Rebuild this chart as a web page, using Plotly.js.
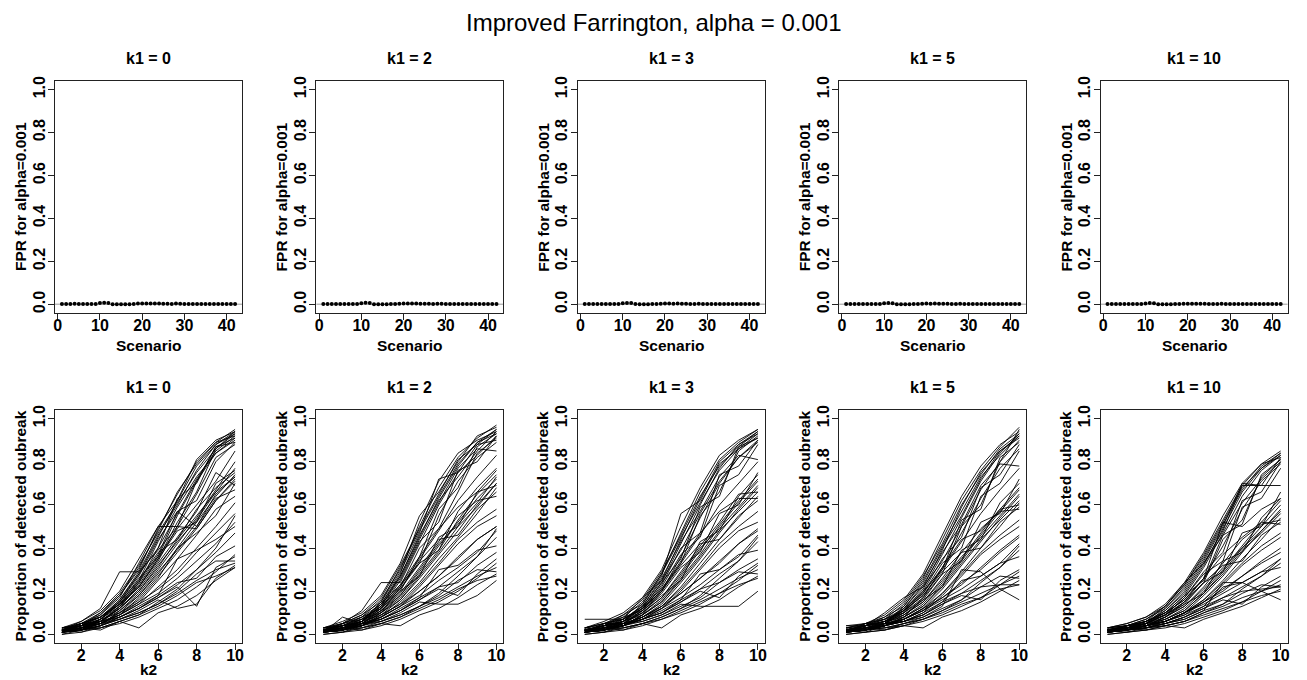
<!DOCTYPE html>
<html>
<head>
<meta charset="utf-8">
<script src="https://cdn.plot.ly/plotly-3.0.1.min.js"></script>
<style>html,body{margin:0;padding:0;background:#fff}#chart{width:1307px;height:680px}</style>
</head>
<body>
<div id="chart"></div>
<script>
// ---------------- DATA ----------------
const mainTitle = "Improved Farrington, alpha = 0.001";
const panelTitles = ["k1 = 0", "k1 = 2", "k1 = 3", "k1 = 5", "k1 = 10"];
const scenarios = [1,2,3,4,5,6,7,8,9,10,11,12,13,14,15,16,17,18,19,20,21,22,23,24,25,26,27,28,29,30,31,32,33,34,35,36,37,38,39,40,41,42];
const k2 = [1,2,3,4,5,6,7,8,9,10];
const alphaLine = 0.001;
const yTickVals = [0, 0.2, 0.4, 0.6, 0.8, 1.0];
const topXTicks = [0, 10, 20, 30, 40];
const botXTicks = [2, 4, 6, 8, 10];

// FPR per scenario (top row)
const fpr_k1_0  = [0.002,0.002,0.002,0.003,0.002,0.002,0.002,0.002,0.002,0.006,0.008,0.007,0.001,0.001,0.001,0.001,0.001,0.002,0.004,0.004,0.004,0.004,0.004,0.004,0.003,0.003,0.002,0.004,0.003,0.002,0.002,0.002,0.002,0.002,0.002,0.002,0.002,0.002,0.002,0.002,0.002,0.002];
const fpr_k1_2  = [0.002,0.002,0.002,0.002,0.002,0.002,0.002,0.002,0.002,0.005,0.008,0.006,0.001,0.001,0.001,0.001,0.002,0.002,0.003,0.004,0.004,0.004,0.004,0.003,0.003,0.003,0.002,0.003,0.003,0.002,0.002,0.002,0.002,0.002,0.002,0.002,0.002,0.002,0.002,0.002,0.002,0.002];
const fpr_k1_3  = [0.002,0.002,0.002,0.002,0.002,0.002,0.002,0.002,0.002,0.005,0.007,0.006,0.002,0.001,0.001,0.001,0.002,0.002,0.003,0.004,0.004,0.003,0.004,0.003,0.003,0.002,0.002,0.003,0.002,0.002,0.002,0.002,0.002,0.002,0.002,0.002,0.002,0.002,0.002,0.002,0.002,0.002];
const fpr_k1_5  = [0.002,0.002,0.002,0.002,0.002,0.002,0.002,0.002,0.002,0.005,0.007,0.005,0.001,0.001,0.001,0.001,0.002,0.002,0.003,0.004,0.003,0.004,0.003,0.003,0.003,0.002,0.002,0.003,0.002,0.002,0.002,0.002,0.002,0.002,0.002,0.002,0.002,0.002,0.002,0.002,0.002,0.002];
const fpr_k1_10 = [0.002,0.002,0.002,0.002,0.002,0.002,0.002,0.002,0.002,0.004,0.006,0.005,0.001,0.001,0.001,0.001,0.002,0.002,0.003,0.003,0.003,0.003,0.003,0.003,0.002,0.002,0.002,0.003,0.002,0.002,0.002,0.002,0.002,0.002,0.002,0.002,0.002,0.002,0.002,0.002,0.002,0.002];

// Proportion of detected outbreak, one row per scenario, values for k2 = 1..10 (bottom row)
const det_k1_0 = [
[0.02,0.04,0.08,0.15,0.28,0.45,0.62,0.78,0.88,0.94],
[0.01,0.03,0.07,0.14,0.22,0.35,0.52,0.66,0.86,0.93],
[0.03,0.05,0.10,0.18,0.30,0.49,0.65,0.80,0.89,0.95],
[0.01,0.02,0.06,0.12,0.24,0.40,0.56,0.72,0.85,0.92],
[0.02,0.05,0.09,0.17,0.33,0.50,0.50,0.71,0.87,0.91],
[0.02,0.04,0.08,0.16,0.29,0.46,0.60,0.76,0.88,0.93],
[0.01,0.03,0.06,0.13,0.25,0.43,0.59,0.73,0.84,0.90],
[0.03,0.06,0.11,0.20,0.35,0.50,0.62,0.81,0.90,0.94],
[0.02,0.03,0.07,0.15,0.27,0.44,0.57,0.62,0.80,0.89],
[0.01,0.04,0.09,0.18,0.31,0.48,0.66,0.79,0.89,0.92],
[0.02,0.05,0.08,0.14,0.26,0.36,0.55,0.71,0.84,0.91],
[0.03,0.04,0.10,0.19,0.32,0.47,0.61,0.75,0.86,0.94],
[0.01,0.02,0.07,0.16,0.28,0.40,0.63,0.70,0.87,0.89],
[0.02,0.06,0.12,0.29,0.29,0.39,0.50,0.65,0.82,0.88],
[0.01,0.03,0.06,0.12,0.20,0.31,0.44,0.55,0.66,0.77],
[0.02,0.02,0.05,0.10,0.18,0.28,0.40,0.52,0.64,0.74],
[0.01,0.04,0.07,0.13,0.22,0.35,0.48,0.52,0.70,0.76],
[0.02,0.03,0.05,0.09,0.17,0.27,0.38,0.49,0.62,0.72],
[0.03,0.05,0.08,0.14,0.24,0.37,0.57,0.50,0.65,0.73],
[0.01,0.02,0.04,0.11,0.19,0.30,0.42,0.54,0.67,0.80],
[0.02,0.04,0.06,0.12,0.21,0.33,0.45,0.57,0.75,0.69],
[0.01,0.03,0.07,0.10,0.16,0.26,0.40,0.47,0.55,0.70],
[0.02,0.02,0.05,0.13,0.23,0.36,0.49,0.60,0.71,0.85],
[0.03,0.04,0.06,0.11,0.18,0.29,0.39,0.50,0.63,0.67],
[0.01,0.05,0.08,0.15,0.25,0.38,0.44,0.58,0.68,0.75],
[0.02,0.03,0.05,0.09,0.15,0.25,0.35,0.46,0.58,0.64],
[0.01,0.02,0.06,0.12,0.20,0.32,0.43,0.53,0.66,0.73],
[0.02,0.04,0.07,0.14,0.22,0.34,0.50,0.49,0.62,0.71],
[0.01,0.02,0.04,0.07,0.10,0.14,0.19,0.25,0.30,0.33],
[0.02,0.03,0.05,0.08,0.12,0.17,0.23,0.30,0.38,0.47],
[0.00,0.02,0.03,0.06,0.09,0.13,0.18,0.24,0.27,0.31],
[0.01,0.04,0.06,0.09,0.14,0.19,0.26,0.34,0.42,0.52],
[0.02,0.01,0.03,0.05,0.08,0.12,0.16,0.22,0.29,0.37],
[0.01,0.03,0.05,0.10,0.15,0.21,0.28,0.38,0.47,0.56],
[0.03,0.02,0.04,0.07,0.11,0.16,0.12,0.14,0.26,0.32],
[0.01,0.05,0.06,0.08,0.13,0.18,0.24,0.26,0.36,0.41],
[0.02,0.03,0.02,0.06,0.09,0.15,0.21,0.30,0.40,0.55],
[0.00,0.01,0.04,0.08,0.12,0.18,0.35,0.39,0.44,0.50],
[0.01,0.02,0.05,0.09,0.14,0.22,0.30,0.40,0.50,0.61],
[0.02,0.04,0.05,0.07,0.10,0.14,0.20,0.28,0.34,0.34],
[0.01,0.03,0.03,0.06,0.03,0.10,0.13,0.18,0.25,0.31],
[0.02,0.02,0.04,0.08,0.12,0.17,0.22,0.13,0.31,0.36]
];
const det_k1_2 = [
[0.02,0.03,0.06,0.13,0.27,0.45,0.63,0.78,0.89,0.95],
[0.01,0.02,0.05,0.11,0.20,0.36,0.58,0.68,0.87,0.93],
[0.03,0.04,0.08,0.16,0.30,0.50,0.68,0.82,0.91,0.97],
[0.01,0.03,0.06,0.12,0.25,0.43,0.52,0.76,0.80,0.92],
[0.02,0.05,0.09,0.15,0.29,0.47,0.72,0.75,0.88,0.90],
[0.02,0.03,0.07,0.14,0.28,0.52,0.71,0.84,0.90,0.94],
[0.01,0.02,0.05,0.10,0.22,0.40,0.49,0.66,0.84,0.91],
[0.03,0.06,0.10,0.18,0.33,0.55,0.66,0.80,0.92,0.96],
[0.02,0.04,0.07,0.13,0.26,0.44,0.61,0.77,0.86,0.85],
[0.01,0.03,0.06,0.15,0.31,0.48,0.64,0.79,0.89,0.93],
[0.02,0.04,0.08,0.12,0.23,0.33,0.55,0.71,0.82,0.89],
[0.03,0.05,0.09,0.17,0.32,0.49,0.65,0.81,0.88,0.95],
[0.01,0.02,0.06,0.14,0.27,0.46,0.62,0.73,0.85,0.94],
[0.02,0.05,0.11,0.24,0.24,0.42,0.60,0.75,0.83,0.92],
[0.01,0.02,0.05,0.10,0.18,0.29,0.41,0.52,0.63,0.72],
[0.02,0.03,0.04,0.09,0.16,0.26,0.37,0.48,0.60,0.70],
[0.01,0.04,0.06,0.12,0.21,0.33,0.39,0.57,0.68,0.77],
[0.02,0.02,0.05,0.08,0.15,0.24,0.35,0.45,0.56,0.68],
[0.03,0.05,0.07,0.13,0.22,0.35,0.48,0.62,0.73,0.83],
[0.01,0.03,0.04,0.10,0.17,0.28,0.39,0.53,0.65,0.74],
[0.02,0.04,0.06,0.11,0.19,0.31,0.43,0.55,0.62,0.64],
[0.01,0.02,0.06,0.09,0.14,0.23,0.33,0.44,0.52,0.58],
[0.02,0.03,0.05,0.12,0.20,0.27,0.45,0.50,0.66,0.76],
[0.03,0.04,0.07,0.10,0.16,0.27,0.38,0.50,0.59,0.70],
[0.01,0.05,0.08,0.14,0.23,0.36,0.49,0.59,0.66,0.69],
[0.02,0.03,0.04,0.08,0.13,0.22,0.32,0.42,0.50,0.55],
[0.01,0.02,0.05,0.11,0.18,0.30,0.42,0.51,0.61,0.73],
[0.02,0.04,0.06,0.13,0.21,0.34,0.44,0.46,0.58,0.66],
[0.01,0.02,0.03,0.06,0.09,0.13,0.17,0.22,0.27,0.31],
[0.02,0.03,0.05,0.07,0.11,0.16,0.22,0.29,0.36,0.45],
[0.00,0.01,0.03,0.05,0.08,0.12,0.16,0.21,0.25,0.27],
[0.01,0.04,0.05,0.08,0.13,0.18,0.25,0.31,0.38,0.48],
[0.02,0.01,0.02,0.04,0.07,0.11,0.15,0.20,0.26,0.33],
[0.01,0.03,0.04,0.09,0.14,0.20,0.27,0.35,0.44,0.50],
[0.03,0.02,0.04,0.06,0.10,0.15,0.14,0.14,0.18,0.25],
[0.01,0.08,0.05,0.07,0.12,0.17,0.22,0.24,0.32,0.38],
[0.02,0.03,0.02,0.05,0.08,0.13,0.19,0.27,0.36,0.49],
[0.00,0.01,0.04,0.07,0.11,0.17,0.30,0.32,0.39,0.41],
[0.01,0.02,0.04,0.08,0.13,0.20,0.27,0.36,0.44,0.50],
[0.02,0.04,0.05,0.06,0.09,0.13,0.18,0.25,0.30,0.29],
[0.01,0.03,0.03,0.05,0.04,0.09,0.12,0.17,0.23,0.28],
[0.02,0.02,0.04,0.07,0.11,0.16,0.21,0.18,0.28,0.35]
];
const det_k1_3 = [
[0.02,0.03,0.06,0.12,0.24,0.42,0.60,0.77,0.88,0.94],
[0.01,0.02,0.05,0.10,0.21,0.33,0.55,0.66,0.85,0.92],
[0.03,0.05,0.08,0.15,0.28,0.47,0.66,0.81,0.89,0.95],
[0.01,0.03,0.05,0.11,0.23,0.40,0.47,0.74,0.78,0.90],
[0.02,0.04,0.09,0.14,0.27,0.56,0.62,0.79,0.86,0.91],
[0.02,0.03,0.07,0.13,0.25,0.44,0.63,0.80,0.88,0.93],
[0.01,0.02,0.04,0.09,0.20,0.36,0.54,0.70,0.82,0.89],
[0.03,0.06,0.10,0.17,0.30,0.50,0.68,0.83,0.90,0.95],
[0.02,0.04,0.07,0.12,0.24,0.35,0.59,0.64,0.87,0.91],
[0.01,0.03,0.06,0.14,0.28,0.45,0.61,0.76,0.86,0.93],
[0.02,0.04,0.08,0.11,0.22,0.37,0.45,0.69,0.74,0.88],
[0.03,0.05,0.09,0.16,0.29,0.46,0.64,0.78,0.87,0.94],
[0.01,0.02,0.06,0.13,0.26,0.43,0.57,0.73,0.83,0.81],
[0.07,0.07,0.07,0.17,0.25,0.39,0.56,0.71,0.82,0.90],
[0.01,0.02,0.04,0.09,0.16,0.27,0.39,0.51,0.62,0.72],
[0.02,0.03,0.04,0.08,0.14,0.24,0.35,0.47,0.58,0.68],
[0.01,0.04,0.06,0.11,0.19,0.31,0.38,0.56,0.60,0.75],
[0.02,0.02,0.05,0.08,0.13,0.22,0.33,0.44,0.54,0.64],
[0.03,0.05,0.07,0.12,0.20,0.33,0.46,0.60,0.70,0.80],
[0.01,0.03,0.04,0.09,0.15,0.26,0.37,0.50,0.61,0.71],
[0.02,0.04,0.06,0.10,0.17,0.29,0.41,0.52,0.65,0.66],
[0.01,0.02,0.05,0.08,0.13,0.21,0.31,0.42,0.50,0.57],
[0.02,0.03,0.05,0.11,0.18,0.25,0.43,0.48,0.64,0.74],
[0.03,0.04,0.06,0.09,0.15,0.25,0.36,0.48,0.57,0.66],
[0.01,0.05,0.07,0.13,0.21,0.34,0.47,0.57,0.63,0.63],
[0.02,0.03,0.04,0.07,0.12,0.20,0.30,0.40,0.48,0.52],
[0.01,0.02,0.05,0.10,0.17,0.28,0.40,0.49,0.59,0.69],
[0.02,0.04,0.06,0.12,0.20,0.32,0.42,0.44,0.55,0.62],
[0.01,0.02,0.03,0.05,0.08,0.12,0.16,0.21,0.26,0.30],
[0.02,0.03,0.04,0.07,0.10,0.15,0.21,0.28,0.34,0.43],
[0.00,0.01,0.03,0.05,0.07,0.11,0.15,0.19,0.23,0.26],
[0.01,0.04,0.05,0.08,0.12,0.17,0.23,0.30,0.36,0.46],
[0.02,0.01,0.02,0.04,0.07,0.10,0.14,0.19,0.25,0.32],
[0.01,0.03,0.04,0.08,0.13,0.19,0.26,0.33,0.42,0.48],
[0.03,0.02,0.04,0.06,0.09,0.14,0.13,0.13,0.13,0.20],
[0.01,0.05,0.05,0.07,0.11,0.16,0.21,0.24,0.30,0.35],
[0.02,0.03,0.02,0.05,0.08,0.12,0.18,0.26,0.34,0.45],
[0.00,0.01,0.04,0.07,0.10,0.16,0.28,0.30,0.37,0.39],
[0.01,0.02,0.04,0.07,0.12,0.19,0.26,0.34,0.42,0.49],
[0.02,0.04,0.05,0.06,0.09,0.13,0.17,0.24,0.29,0.28],
[0.01,0.03,0.03,0.05,0.03,0.09,0.12,0.16,0.22,0.27],
[0.02,0.02,0.04,0.07,0.10,0.15,0.20,0.17,0.27,0.33]
];
const det_k1_5 = [
[0.02,0.03,0.05,0.11,0.21,0.37,0.54,0.71,0.84,0.93],
[0.01,0.02,0.04,0.09,0.16,0.28,0.50,0.60,0.80,0.90],
[0.03,0.04,0.07,0.14,0.26,0.44,0.62,0.76,0.87,0.96],
[0.01,0.03,0.05,0.10,0.20,0.35,0.45,0.68,0.74,0.88],
[0.02,0.04,0.08,0.13,0.24,0.40,0.55,0.72,0.85,0.92],
[0.02,0.03,0.06,0.12,0.22,0.39,0.59,0.75,0.85,0.91],
[0.01,0.02,0.04,0.08,0.17,0.31,0.47,0.63,0.77,0.86],
[0.04,0.05,0.09,0.16,0.28,0.46,0.64,0.78,0.88,0.94],
[0.02,0.04,0.06,0.11,0.20,0.30,0.53,0.58,0.82,0.89],
[0.01,0.03,0.05,0.13,0.25,0.41,0.57,0.73,0.83,0.92],
[0.02,0.04,0.07,0.10,0.19,0.33,0.40,0.64,0.70,0.85],
[0.03,0.05,0.08,0.15,0.27,0.42,0.60,0.74,0.86,0.93],
[0.01,0.02,0.05,0.12,0.23,0.38,0.51,0.69,0.79,0.78],
[0.04,0.04,0.10,0.17,0.22,0.34,0.50,0.67,0.80,0.95],
[0.01,0.02,0.04,0.08,0.14,0.24,0.35,0.47,0.58,0.68],
[0.02,0.03,0.04,0.07,0.12,0.21,0.32,0.43,0.54,0.64],
[0.01,0.04,0.06,0.10,0.17,0.28,0.34,0.52,0.56,0.72],
[0.02,0.02,0.05,0.07,0.11,0.19,0.29,0.40,0.50,0.61],
[0.03,0.05,0.07,0.11,0.18,0.30,0.43,0.56,0.67,0.77],
[0.01,0.03,0.04,0.08,0.13,0.23,0.34,0.46,0.57,0.67],
[0.02,0.04,0.06,0.09,0.15,0.26,0.38,0.49,0.57,0.58],
[0.01,0.02,0.05,0.07,0.12,0.19,0.28,0.38,0.46,0.53],
[0.02,0.03,0.05,0.10,0.16,0.22,0.39,0.44,0.61,0.70],
[0.03,0.04,0.06,0.08,0.13,0.22,0.33,0.44,0.53,0.62],
[0.01,0.05,0.07,0.12,0.19,0.31,0.44,0.48,0.58,0.60],
[0.02,0.03,0.04,0.06,0.10,0.18,0.27,0.37,0.44,0.50],
[0.01,0.02,0.05,0.09,0.15,0.25,0.36,0.45,0.55,0.65],
[0.02,0.04,0.06,0.11,0.18,0.29,0.38,0.40,0.52,0.59],
[0.01,0.02,0.03,0.05,0.07,0.11,0.15,0.19,0.23,0.27],
[0.02,0.03,0.04,0.06,0.09,0.14,0.19,0.25,0.31,0.39],
[0.00,0.01,0.02,0.04,0.07,0.10,0.14,0.17,0.21,0.23],
[0.01,0.04,0.05,0.07,0.11,0.16,0.21,0.27,0.33,0.42],
[0.02,0.01,0.02,0.04,0.06,0.09,0.13,0.17,0.23,0.29],
[0.01,0.03,0.04,0.07,0.12,0.17,0.24,0.30,0.38,0.45],
[0.03,0.02,0.03,0.05,0.08,0.13,0.30,0.29,0.21,0.16],
[0.01,0.05,0.05,0.06,0.10,0.15,0.19,0.22,0.23,0.23],
[0.02,0.03,0.02,0.05,0.07,0.11,0.16,0.24,0.31,0.41],
[0.00,0.01,0.04,0.06,0.09,0.15,0.25,0.27,0.33,0.36],
[0.01,0.02,0.04,0.07,0.11,0.17,0.23,0.31,0.39,0.46],
[0.02,0.04,0.05,0.06,0.08,0.12,0.16,0.22,0.27,0.26],
[0.01,0.03,0.03,0.04,0.03,0.08,0.11,0.15,0.20,0.25],
[0.02,0.02,0.04,0.06,0.09,0.14,0.18,0.16,0.25,0.30]
];
const det_k1_10 = [
[0.02,0.03,0.05,0.10,0.18,0.31,0.47,0.64,0.76,0.83],
[0.01,0.02,0.04,0.08,0.14,0.24,0.44,0.53,0.73,0.81],
[0.03,0.04,0.07,0.13,0.23,0.37,0.53,0.69,0.79,0.85],
[0.01,0.03,0.05,0.09,0.17,0.29,0.38,0.62,0.66,0.80],
[0.02,0.04,0.07,0.12,0.21,0.34,0.50,0.70,0.69,0.82],
[0.02,0.03,0.06,0.11,0.19,0.32,0.49,0.66,0.77,0.84],
[0.01,0.02,0.04,0.08,0.15,0.26,0.41,0.58,0.71,0.79],
[0.03,0.05,0.08,0.14,0.24,0.38,0.55,0.70,0.79,0.82],
[0.02,0.04,0.06,0.10,0.18,0.25,0.46,0.51,0.74,0.81],
[0.01,0.03,0.05,0.12,0.22,0.35,0.51,0.67,0.78,0.84],
[0.02,0.04,0.06,0.09,0.17,0.28,0.34,0.59,0.63,0.77],
[0.03,0.05,0.08,0.13,0.23,0.36,0.52,0.68,0.77,0.83],
[0.01,0.02,0.05,0.11,0.20,0.33,0.48,0.69,0.69,0.69],
[0.02,0.03,0.06,0.13,0.24,0.33,0.46,0.61,0.72,0.80],
[0.01,0.02,0.04,0.07,0.12,0.20,0.30,0.41,0.52,0.62],
[0.02,0.03,0.04,0.06,0.10,0.18,0.27,0.38,0.48,0.58],
[0.01,0.04,0.05,0.09,0.15,0.24,0.29,0.47,0.50,0.66],
[0.02,0.02,0.04,0.06,0.10,0.16,0.25,0.35,0.44,0.54],
[0.03,0.04,0.06,0.10,0.16,0.26,0.52,0.50,0.58,0.63],
[0.01,0.03,0.04,0.07,0.11,0.19,0.29,0.40,0.50,0.60],
[0.02,0.03,0.05,0.08,0.13,0.22,0.33,0.44,0.51,0.53],
[0.01,0.02,0.04,0.06,0.10,0.16,0.24,0.33,0.41,0.47],
[0.02,0.03,0.05,0.09,0.14,0.19,0.34,0.38,0.54,0.63],
[0.03,0.04,0.05,0.07,0.11,0.19,0.28,0.39,0.47,0.56],
[0.01,0.04,0.06,0.10,0.16,0.26,0.37,0.45,0.52,0.51],
[0.02,0.03,0.04,0.06,0.09,0.15,0.23,0.32,0.39,0.45],
[0.01,0.02,0.04,0.08,0.13,0.21,0.31,0.40,0.48,0.57],
[0.02,0.03,0.05,0.09,0.15,0.24,0.32,0.34,0.46,0.52],
[0.01,0.02,0.03,0.04,0.06,0.10,0.13,0.17,0.20,0.23],
[0.02,0.03,0.03,0.05,0.08,0.12,0.17,0.22,0.27,0.33],
[0.00,0.01,0.02,0.04,0.06,0.09,0.12,0.15,0.18,0.20],
[0.01,0.03,0.04,0.06,0.10,0.14,0.19,0.24,0.29,0.35],
[0.02,0.01,0.02,0.03,0.05,0.08,0.11,0.15,0.20,0.25],
[0.01,0.02,0.04,0.06,0.10,0.15,0.21,0.27,0.33,0.38],
[0.03,0.02,0.03,0.05,0.07,0.11,0.24,0.24,0.20,0.16],
[0.01,0.04,0.05,0.06,0.09,0.13,0.17,0.20,0.21,0.22],
[0.02,0.03,0.02,0.04,0.06,0.10,0.14,0.21,0.27,0.35],
[0.00,0.01,0.03,0.05,0.08,0.13,0.22,0.24,0.29,0.31],
[0.01,0.02,0.03,0.06,0.10,0.15,0.20,0.27,0.34,0.40],
[0.02,0.03,0.04,0.05,0.07,0.11,0.14,0.19,0.23,0.22],
[0.01,0.02,0.03,0.04,0.03,0.07,0.10,0.13,0.17,0.21],
[0.02,0.02,0.03,0.05,0.08,0.12,0.16,0.14,0.22,0.27]
];

// ---------------- BUILD ----------------
const fprAll = [fpr_k1_0, fpr_k1_2, fpr_k1_3, fpr_k1_5, fpr_k1_10];
const detAll = [det_k1_0, det_k1_2, det_k1_3, det_k1_5, det_k1_10];

const W = 1307, H = 680;
const colW = W / 5;
const frameL = 55, frameR = 242;           // px inside each column
const topFrame = [81, 313], botFrame = [410, 643]; // px from top
const FONT = "Liberation Sans, Arial, Helvetica, sans-serif";
const px = v => v / W, py = v => 1 - v / H;

const traces = [];
const layout = {
  width: W, height: H,
  margin: {l: 0, r: 0, t: 0, b: 0},
  paper_bgcolor: "#fff", plot_bgcolor: "#fff",
  showlegend: false,
  font: {family: FONT, color: "#000"},
  shapes: [], annotations: []
};

function axisBase(domain, range, tickvals, ticktext, isY) {
  const a = {
    domain: domain, range: range, autorange: false, fixedrange: true,
    showgrid: false, zeroline: false,
    showline: true, mirror: true, linecolor: "#222", linewidth: 1,
    ticks: "outside", ticklen: 6, tickwidth: 1, tickcolor: "#222",
    tickvals: tickvals, ticktext: ticktext,
    tickfont: {family: FONT, size: 16, color: "#000", weight: "bold"}
  };
  if (isY) { a.tickangle = -90; a.ticklabelstandoff = -3; }
  else { a.ticklabelstandoff = -8; }
  return a;
}

const yText = yTickVals.map(v => v.toFixed(1));
const LBL = 15.5;

for (let i = 0; i < 5; i++) {
  const x0 = px(frameL + colW * i), x1 = px(frameR + colW * i);
  const cx = (frameL + frameR) / 2 + colW * i;
  const nt = i + 1, nb = i + 6;

  layout["xaxis" + nt] = Object.assign(axisBase([x0, x1], [-0.64, 43.64], topXTicks, topXTicks.map(String), false), {anchor: "y" + nt});
  layout["yaxis" + nt] = Object.assign(axisBase([py(topFrame[1]), py(topFrame[0])], [-0.04, 1.04], yTickVals, yText, true), {anchor: "x" + nt});
  layout["xaxis" + nb] = Object.assign(axisBase([x0, x1], [0.64, 10.36], botXTicks, botXTicks.map(String), false), {anchor: "y" + nb});
  layout["yaxis" + nb] = Object.assign(axisBase([py(botFrame[1]), py(botFrame[0])], [-0.04, 1.04], yTickVals, yText, true), {anchor: "x" + nb});

  layout.shapes.push({type: "line", xref: "x" + nt + " domain", yref: "y" + nt,
    x0: 0, x1: 1, y0: alphaLine, y1: alphaLine, line: {color: "#9a9a9a", width: 1}, layer: "below"});

  traces.push({type: "scatter", mode: "markers", x: scenarios, y: fprAll[i],
    xaxis: "x" + nt, yaxis: "y" + nt, marker: {color: "#000", size: 4}, hoverinfo: "skip"});

  detAll[i].forEach(row => {
    traces.push({type: "scatter", mode: "lines", x: k2, y: row,
      xaxis: "x" + nb, yaxis: "y" + nb, line: {color: "#000", width: 0.9}, hoverinfo: "skip"});
  });

  layout.annotations.push({text: "<b>" + panelTitles[i] + "</b>", xref: "paper", yref: "paper",
    x: px(cx), y: py(58), xanchor: "center", yanchor: "middle", showarrow: false,
    font: {family: FONT, size: 16, color: "#000"}});
  layout.annotations.push({text: "<b>" + panelTitles[i] + "</b>", xref: "paper", yref: "paper",
    x: px(cx), y: py(387), xanchor: "center", yanchor: "middle", showarrow: false,
    font: {family: FONT, size: 16, color: "#000"}});
  layout.annotations.push({text: "<b>Scenario</b>", xref: "paper", yref: "paper",
    x: px(cx), y: py(345), xanchor: "center", yanchor: "middle", showarrow: false,
    font: {family: FONT, size: LBL, color: "#000"}});
  layout.annotations.push({text: "<b>k2</b>", xref: "paper", yref: "paper",
    x: px(cx), y: py(669), xanchor: "center", yanchor: "middle", showarrow: false,
    font: {family: FONT, size: LBL, color: "#000"}});
  layout.annotations.push({text: "<b>FPR for alpha=0.001</b>", xref: "paper", yref: "paper",
    x: px(20 + colW * i), y: py((topFrame[0] + topFrame[1]) / 2), xanchor: "center", yanchor: "middle",
    textangle: -90, showarrow: false, font: {family: FONT, size: LBL, color: "#000"}});
  layout.annotations.push({text: "<b>Proportion of detected oubreak</b>", xref: "paper", yref: "paper",
    x: px(20 + colW * i), y: py((botFrame[0] + botFrame[1]) / 2), xanchor: "center", yanchor: "middle",
    textangle: -90, showarrow: false, font: {family: FONT, size: LBL, color: "#000"}});
}

layout.annotations.push({text: mainTitle, xref: "paper", yref: "paper",
  x: 0.5, y: py(23), xanchor: "center", yanchor: "middle", showarrow: false,
  font: {family: FONT, size: 24, color: "#000"}});

Plotly.newPlot("chart", traces, layout, {staticPlot: true, displayModeBar: false});
</script>
</body>
</html>
